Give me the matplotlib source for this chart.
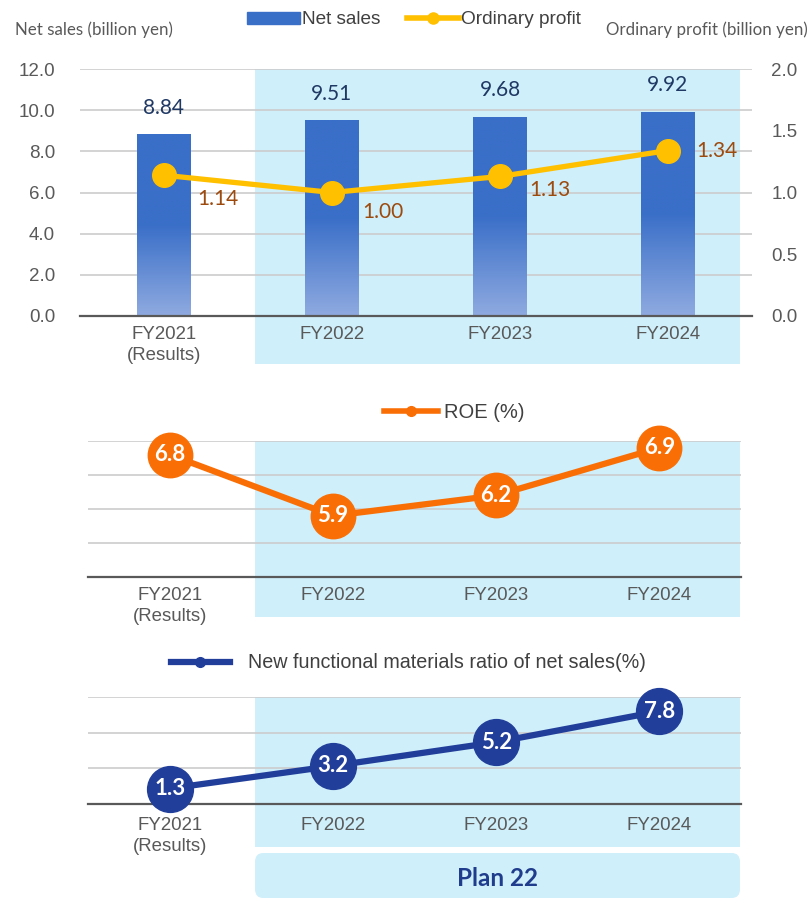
import numpy as np
import matplotlib
matplotlib.use("Agg")
import matplotlib.pyplot as plt
from matplotlib.patches import Rectangle, FancyBboxPatch
from matplotlib.colors import LinearSegmentedColormap
from matplotlib.lines import Line2D

# data
years = ['FY2021\n(Results)', 'FY2022', 'FY2023', 'FY2024']
net_sales = [8.84, 9.51, 9.68, 9.92]
ordinary_profit = [1.14, 1.00, 1.13, 1.34]
roe = [6.8, 5.9, 6.2, 6.9]
new_func_ratio = [1.3, 3.2, 5.2, 7.8]

# label offsets for the ordinary profit values (points)
op_label_offsets = [(39, -17), (37, -14), (36, -10), (35, 0)]

W, H = 811, 900
fig = plt.figure(figsize=(W / 100, H / 100), dpi=100)
plt.rcParams['font.family'] = ['Liberation Sans', 'DejaVu Sans']

GRAY = '#595959'
SHADE = '#CFEFFA'
BLUE = '#3A6FC8'
YELLOW = '#FFC000'
ORANGE = '#F96F06'
NAVY = '#213E9A'


def fx(px):
    return px / W


def fy(py):
    return 1 - py / H


def box(l, t, r, b):
    return [fx(l), fy(b), fx(r) - fx(l), fy(t) - fy(b)]


def shade(l, t, r, b):
    fig.add_artist(Rectangle((fx(l), fy(b)), fx(r) - fx(l), fy(t) - fy(b),
                             transform=fig.transFigure, color=SHADE,
                             lw=0, zorder=-1))


def style_axes(ax, ylim, yticks, pad=7):
    ax.set_facecolor('none')
    ax.set_zorder(1)
    ax.set_xlim(-0.5, len(years) - 0.5)
    ax.set_ylim(*ylim)
    ax.set_yticks(yticks)
    ax.grid(axis='y', color='#CCCCCC', lw=1.2)
    ax.set_axisbelow(True)
    for s in ['top', 'left', 'right']:
        ax.spines[s].set_visible(False)
    ax.spines['bottom'].set_color(GRAY)
    ax.spines['bottom'].set_linewidth(1.6)
    ax.set_xticks(range(len(years)))
    ax.set_xticklabels(years, linespacing=1.35)
    ax.tick_params(axis='x', length=0, pad=pad, labelsize=13.4, labelcolor=GRAY)


shade(255, 69, 740, 364)
shade(255, 441, 740, 617)
shade(255, 697, 740, 847)

x = np.arange(len(years))

# ---- top chart: net sales + ordinary profit
ax1 = fig.add_axes(box(80, 69, 752, 316))
bars = ax1.bar(x, net_sales, width=0.32, color=BLUE, zorder=2)
cmap = LinearSegmentedColormap.from_list(
    'bar', [(0, '#8FAAE0'), (0.5, BLUE), (1, BLUE)])
grad = np.linspace(0, 1, 256).reshape(-1, 1)
for b in bars:
    im = ax1.imshow(grad, extent=[b.get_x(), b.get_x() + b.get_width(), 0, b.get_height()],
                    origin='lower', aspect='auto', cmap=cmap, zorder=2.5)
    im.set_clip_path(b)
for xi, v in zip(x, net_sales):
    ax1.annotate(f'{v:.2f}', (xi, v), xytext=(0, 19), textcoords='offset points',
                 ha='center', va='center', fontsize=15, color='#1F3864',
                 family=['Lato', 'DejaVu Sans'])
style_axes(ax1, (0, 12), np.arange(0, 12.1, 2))
ax1.set_yticklabels([f'{t:.1f}' for t in np.arange(0, 12.1, 2)])
ax1.tick_params(axis='y', length=0, pad=18, labelsize=13.5, labelcolor=GRAY)

ax2 = ax1.twinx()
ax2.plot(x, ordinary_profit, color=YELLOW, lw=3.8, marker='o', ms=17,
         solid_capstyle='round', zorder=3)
for xi, v, off in zip(x, ordinary_profit, op_label_offsets):
    ax2.annotate(f'{v:.2f}', (xi, v), xytext=off, textcoords='offset points',
                 ha='center', va='center', fontsize=15, color='#9C4A0E',
                 family=['Lato', 'DejaVu Sans'])
ax2.set_ylim(0, 2)
ax2.set_yticks(np.arange(0, 2.01, 0.5))
ax2.set_yticklabels([f'{t:.1f}' for t in np.arange(0, 2.01, 0.5)])
ax2.tick_params(axis='y', length=0, pad=14, labelsize=13.5, labelcolor=GRAY)
for s in ['top', 'left', 'right', 'bottom']:
    ax2.spines[s].set_visible(False)

fig.text(fx(15), fy(30), 'Net sales (billion yen)', ha='left', va='center',
         fontsize=12.2, color=GRAY, family=['Lato', 'DejaVu Sans'])
fig.text(fx(808), fy(30), 'Ordinary profit (billion yen)', ha='right', va='center',
         fontsize=12.2, color=GRAY, family=['Lato', 'DejaVu Sans'])

fig.legend([Rectangle((0, 0), 1, 1, color=BLUE),
            Line2D([], [], color=YELLOW, lw=4, marker='o', ms=8)],
           ['Net sales', 'Ordinary profit'], loc='center',
           bbox_to_anchor=(fx(414), fy(20)), ncol=2, frameon=False,
           fontsize=13.7, handlelength=2.75, handleheight=0.6,
           handletextpad=0.1, columnspacing=1.4, labelcolor='#404040')

# ---- middle chart: ROE
ax3 = fig.add_axes(box(88, 441, 741, 577))
style_axes(ax3, (5, 7), np.arange(5, 7.01, 0.5))
ax3.set_yticklabels([])
ax3.tick_params(axis='y', length=0)
ax3.plot(x, roe, color=ORANGE, lw=4.5, marker='o', ms=32, clip_on=False, zorder=3)
for xi, v in zip(x, roe):
    ax3.text(xi, v, f'{v:.1f}', ha='center', va='center', fontsize=16,
             fontweight='bold', color='white', family=['Lato', 'DejaVu Sans'],
             zorder=4)
fig.legend([Line2D([], [], color=ORANGE, lw=4, marker='o', ms=7)], ['ROE (%)'],
           loc='center', bbox_to_anchor=(fx(454), fy(413)), frameon=False,
           fontsize=14.5, handlelength=2.7, handletextpad=0.3,
           labelcolor='#404040')

# ---- bottom chart: new functional materials ratio
ax4 = fig.add_axes(box(88, 697, 741, 804))
style_axes(ax4, (0, 9), [0, 3, 6, 9], pad=9)
ax4.set_yticklabels([])
ax4.tick_params(axis='y', length=0)
ax4.plot(x, new_func_ratio, color=NAVY, lw=4.5, marker='o', ms=33, clip_on=False, zorder=3)
for xi, v in zip(x, new_func_ratio):
    ax4.text(xi, v, f'{v:.1f}', ha='center', va='center', fontsize=16,
             fontweight='bold', color='white', family=['Lato', 'DejaVu Sans'],
             zorder=4)
fig.legend([Line2D([], [], color=NAVY, lw=4.5, marker='o', ms=7)],
           ['New functional materials ratio of net sales(%)'],
           loc='center', bbox_to_anchor=(fx(408), fy(663)), frameon=False,
           fontsize=14.2, handlelength=3.0, handletextpad=0.9,
           labelcolor='#404040')

# Plan 22 banner
fig.add_artist(FancyBboxPatch((fx(255), fy(898)), fx(740) - fx(255), fy(853) - fy(898),
                              boxstyle='round,pad=0,rounding_size=0.01',
                              transform=fig.transFigure, color=SHADE, lw=0, zorder=-1))
fig.text(fx(497), fy(878), 'Plan 22', ha='center', va='center', fontsize=17.5,
         fontweight='bold', color='#203C8C', family=['Lato', 'DejaVu Sans'])

fig.savefig('out.png', dpi=100)
